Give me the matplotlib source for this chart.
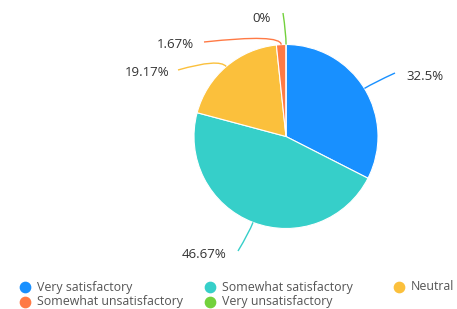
import numpy as np
import matplotlib
matplotlib.use("Agg")
import matplotlib.pyplot as plt
from matplotlib.path import Path
from matplotlib.patches import PathPatch

# data
categories = ["Very satisfactory", "Somewhat satisfactory", "Neutral",
              "Somewhat unsatisfactory", "Very unsatisfactory"]
percents = [32.5, 46.67, 19.17, 1.67, 0.0]
pct_labels = ["32.5%", "46.67%", "19.17%", "1.67%", "0%"]
colors = ["#1890ff", "#36cfc9", "#fbc03c", "#ff7a45", "#73d13d"]

plt.rcParams['font.family'] = ['Open Sans', 'DejaVu Sans']

W, H = 457, 309
fig = plt.figure(figsize=(W / 100, H / 100), dpi=100)
ax = fig.add_axes([0, 0, 1, 1])

cx, cy, r = 286, 136.5, 92

# y axis inverted -> counterclock=True draws visually clockwise from the top
ax.pie(percents, colors=colors, startangle=-90, counterclock=True,
       center=(cx, cy), radius=r, frame=True,
       wedgeprops=dict(edgecolor="white", linewidth=0.8))
ax.set_xlim(0, W)
ax.set_ylim(H, 0)  # pixel style, y goes down
ax.set_aspect("equal")
ax.axis("off")

# label layout: (line end x, line end y, text x, text y, ha)
label_pos = [
    (395, 73, 406, 76, "left"),
    (238, 251, 226, 255, "right"),
    (178, 70, 169, 73, "right"),
    (204, 42, 194, 45, "right"),
    (283, 13, 271, 18, "right"),
]

cum = np.cumsum([0] + percents)
for i, p in enumerate(percents):
    mid = (cum[i] + p / 2) / 100 * 360 - 90
    th = np.deg2rad(mid)
    x0, y0 = cx + r * np.cos(th), cy + r * np.sin(th)
    xc, yc = cx + (r + 11) * np.cos(th), cy + (r + 11) * np.sin(th)
    ex, ey, tx, ty, ha = label_pos[i]
    path = Path([(x0, y0), (xc, yc), (ex, ey)],
                [Path.MOVETO, Path.CURVE3, Path.CURVE3])
    ax.add_patch(PathPatch(path, fill=False, edgecolor=colors[i], lw=1))
    ax.text(tx, ty, pct_labels[i], ha=ha, va="center", fontsize=9.5,
            color="#333333")

# legend, row-major like the original
leg_x = [25, 210, 399]
leg_y = [287, 302]
for i, name in enumerate(categories):
    row, col = divmod(i, 3)
    ax.scatter(leg_x[col], leg_y[row], s=55, color=colors[i], zorder=3,
               clip_on=False)
    ax.text(leg_x[col] + 12, leg_y[row], name, ha="left", va="center",
            fontsize=8.9, color="#555555")

fig.savefig("out.png", dpi=100)
